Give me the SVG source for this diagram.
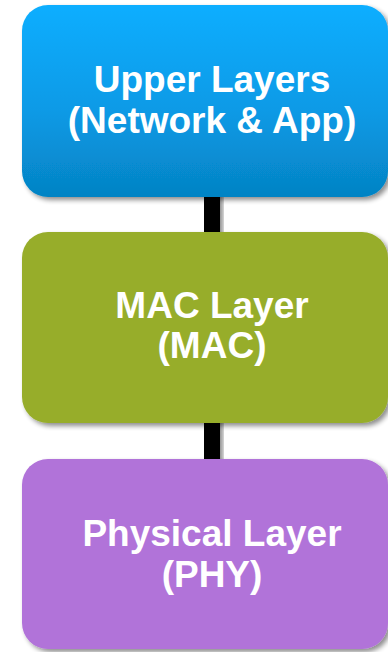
<svg xmlns="http://www.w3.org/2000/svg" width="388" height="652" viewBox="0 0 388 652">
<defs>
<linearGradient id="gBlue" x1="0" y1="0" x2="0" y2="1">
<stop offset="0" stop-color="#0aaeff"/>
<stop offset="0.55" stop-color="#0a9ae6"/>
<stop offset="1" stop-color="#0583c4"/>
</linearGradient>
<filter id="sh" x="-10%" y="-10%" width="130%" height="130%">
<feGaussianBlur in="SourceAlpha" stdDeviation="2.5"/>
<feOffset dx="3" dy="3" result="b"/>
<feComponentTransfer><feFuncA type="linear" slope="0.45"/></feComponentTransfer>
<feMerge><feMergeNode/><feMergeNode in="SourceGraphic"/></feMerge>
</filter>
</defs>
<style>
.lbl{font-family:"Liberation Sans",Arial,sans-serif;font-weight:bold;font-size:37px;fill:#ffffff;text-anchor:middle}
.conn{fill:#000000;filter:url(#sh)}
.box{filter:url(#sh)}
</style>
<rect width="388" height="652" fill="#ffffff"/>
<g id="connectors">
<rect class="conn" x="204" y="190" width="16" height="50"/>
<rect class="conn" x="204" y="415" width="16" height="50"/>
</g>
<g id="upper">
<rect class="box" x="22" y="5" width="366" height="192" rx="26" fill="url(#gBlue)"/>
<text class="lbl" x="212" y="92">Upper Layers</text>
<text class="lbl" x="212" y="133">(Network &amp; App)</text>
</g>
<g id="mac">
<rect class="box" x="22" y="232" width="366" height="191" rx="26" fill="#97ad2b"/>
<text class="lbl" x="212" y="318">MAC Layer</text>
<text class="lbl" x="212" y="358">(MAC)</text>
</g>
<g id="phy">
<rect class="box" x="22" y="459" width="366" height="190" rx="26" fill="#b173d9"/>
<text class="lbl" x="212" y="546">Physical Layer</text>
<text class="lbl" x="212" y="587">(PHY)</text>
</g>
</svg>
